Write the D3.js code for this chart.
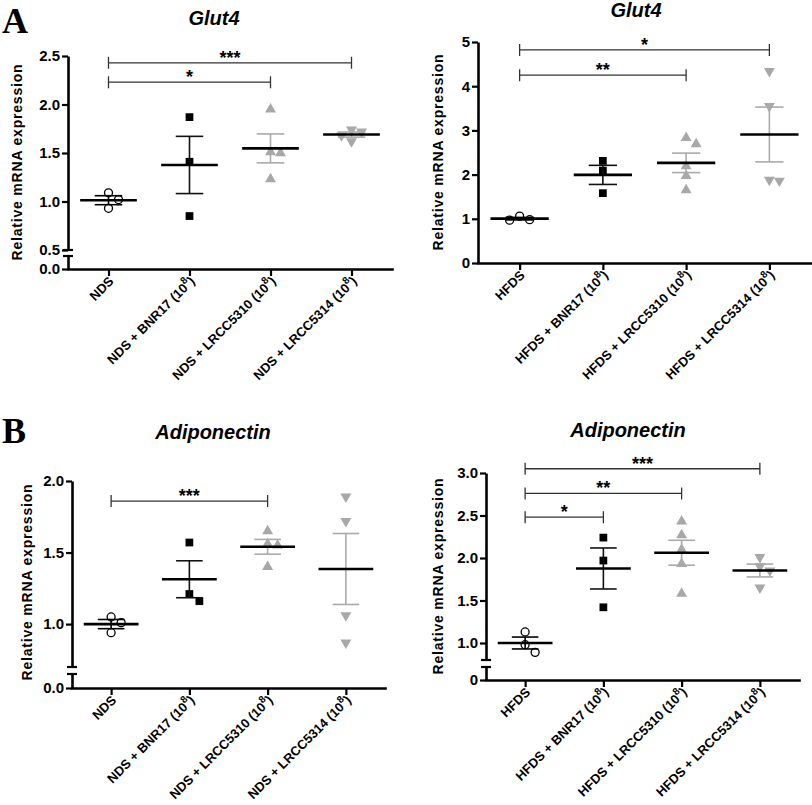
<!DOCTYPE html>
<html>
<head>
<meta charset="utf-8">
<script src="https://cdn.jsdelivr.net/npm/d3@7"></script>
<style>
  body { margin: 0; background: #fff; }
  text { font-family: Arial, "Liberation Sans", sans-serif; }
</style>
</head>
<body>
<svg width="812" height="805"></svg>
<script>
// groups on the x axis
const ndsGroups = ['NDS', 'NDS + BNR17', 'NDS + LRCC5310', 'NDS + LRCC5314'];
const hfdsGroups = ['HFDS', 'HFDS + BNR17', 'HFDS + LRCC5310', 'HFDS + LRCC5314'];
const doseExp = '8';

// relative mRNA expression, one value per animal
const glut4Nds = [[1.09, 1.02, 0.93], [1.87, 1.41, 0.85], [1.95, 1.51, 1.50, 1.23], [1.74, 1.72, 1.68, 1.62]];
const glut4Hfds = [[1.06, 0.98, 0.97], [2.31, 2.09, 1.58], [2.83, 2.69, 2.19, 1.97, 1.65], [4.34, 3.55, 1.88, 1.86]];
const adipoNds = [[1.05, 1.01, 0.94], [1.57, 1.21, 1.16], [1.65, 1.56, 1.55, 1.40], [1.89, 1.72, 1.06, 0.87]];
const adipoHfds = [[1.13, 0.98, 0.89], [2.24, 1.97, 1.42], [2.43, 2.27, 2.10, 1.93, 1.58], [2.01, 1.90, 1.85, 1.65]];

// significance brackets: from group, to group, height, label
const glut4NdsSig = [{a: 0, b: 3, y: 2.43, t: '***'}, {a: 0, b: 2, y: 2.23, t: '*'}];
const glut4HfdsSig = [{a: 0, b: 3, y: 4.82, t: '*'}, {a: 0, b: 2, y: 4.25, t: '**'}];
const adipoNdsSig = [{a: 0, b: 2, y: 1.86, t: '***'}];
const adipoHfdsSig = [{a: 0, b: 3, y: 3.05, t: '***'}, {a: 0, b: 2, y: 2.76, t: '**'}, {a: 0, b: 1, y: 2.48, t: '*'}];

// y tick values and their labels
const glut4NdsTicks = [0.5, 1.0, 1.5, 2.0, 2.5];
const glut4NdsTickLabels = ['0.5', '1.0', '1.5', '2.0', '2.5'];
const glut4HfdsTicks = [0, 1, 2, 3, 4, 5];
const glut4HfdsTickLabels = ['0', '1', '2', '3', '4', '5'];
const adipoNdsTicks = [1.0, 1.5, 2.0];
const adipoNdsTickLabels = ['1.0', '1.5', '2.0'];
const adipoHfdsTicks = [1.0, 1.5, 2.0, 2.5, 3.0];
const adipoHfdsTickLabels = ['1.0', '1.5', '2.0', '2.5', '3.0'];

let svg = d3.select('svg');

// layout of each panel (pixels)
let panels = [
  {title: 'Glut4', groups: ndsGroups, vals: glut4Nds, sig: glut4NdsSig, ticks: glut4NdsTicks, tickLabels: glut4NdsTickLabels,
   zeroLabel: '0.0', lo: 0.5, hi: 2.5, ax: 68, xEnd: 392, yLo: 250, yHi: 56, y0: 269, yLowTop: 256,
   titleX: 214, titleY: 25, labX: 17, labY: 162},
  {title: 'Glut4', groups: hfdsGroups, vals: glut4Hfds, sig: glut4HfdsSig, ticks: glut4HfdsTicks, tickLabels: glut4HfdsTickLabels,
   zeroLabel: null, lo: 0, hi: 5, ax: 478, xEnd: 811, yLo: 263, yHi: 42, y0: 263, yLowTop: null,
   titleX: 636, titleY: 17, labX: 438, labY: 152},
  {title: 'Adiponectin', groups: ndsGroups, vals: adipoNds, sig: adipoNdsSig, ticks: adipoNdsTicks, tickLabels: adipoNdsTickLabels,
   zeroLabel: '0.0', lo: 0.7, hi: 2.0, ax: 72, xEnd: 385, yLo: 667, yHi: 481, y0: 688, yLowTop: 674,
   titleX: 213, titleY: 439, labX: 27, labY: 582},
  {title: 'Adiponectin', groups: hfdsGroups, vals: adipoHfds, sig: adipoHfdsSig, ticks: adipoHfdsTicks, tickLabels: adipoHfdsTickLabels,
   zeroLabel: '0', lo: 0.8, hi: 3.0, ax: 486, xEnd: 799, yLo: 660, yHi: 473, y0: 680, yLowTop: 667,
   titleX: 628, titleY: 437, labX: 438, labY: 576}
];

let symTypes = [d3.symbolCircle, d3.symbolSquare, d3.symbolTriangle, d3.symbolTriangle];
let symSizes = [50, 60, 52, 52];
let symFill = ['#fff', '#000', '#a8a8a8', '#a8a8a8'];
let symStroke = ['#000', 'none', 'none', 'none'];
let errColor = ['#000', '#111', '#aaa', '#aaa'];

function styleAxis(sel) {
  sel.select('.domain').attr('stroke', '#000').attr('stroke-width', 2.6);
  sel.selectAll('.tick line').attr('stroke', '#000').attr('stroke-width', 2.2);
  sel.selectAll('.tick text').attr('fill', '#000')
    .style('font-size', '15px').style('font-weight', 'bold');
}

// spread points that would overlap
function dodge(vals, y) {
  let placed = [];
  let offs = [0, 5, -5, 10, -10, 15, -15];
  return vals.map(function(v) {
    let py = y(v);
    let dx = offs.find(function(o) {
      return placed.every(function(p) { return Math.abs(p.y - py) >= 8 || Math.abs(p.dx - o) >= 9; });
    });
    placed.push({y: py, dx: dx});
    return {v: v, dx: dx};
  });
}

panels.forEach(function(p) {
  let g = svg.append('g');
  let x = d3.scaleLinear().domain([-0.5, 3.5]).range([p.ax, p.xEnd]);
  let y = d3.scaleLinear().domain([p.lo, p.hi]).range([p.yLo, p.yHi]);
  let step = x(1) - x(0);

  // y axis (upper part)
  let ya = g.append('g').attr('transform', 'translate(' + p.ax + ',0)')
    .call(d3.axisLeft(y).tickValues(p.ticks)
      .tickFormat(function(d, i) { return p.tickLabels[i]; })
      .tickSize(6).tickSizeOuter(0).tickPadding(2));
  styleAxis(ya);

  // broken axis: small lower part holding 0
  if (p.yLowTop != null) {
    let y2 = d3.scaleLinear().domain([0, 0.1]).range([p.y0, p.yLowTop]);
    let yb = g.append('g').attr('transform', 'translate(' + p.ax + ',0)')
      .call(d3.axisLeft(y2).tickValues([0]).tickFormat(function() { return p.zeroLabel; })
        .tickSize(6).tickSizeOuter(0).tickPadding(2));
    styleAxis(yb);
    [p.yLo, p.yLowTop].forEach(function(yy) {
      g.append('line').attr('x1', p.ax - 5).attr('x2', p.ax + 5)
        .attr('y1', yy).attr('y2', yy).attr('stroke', '#000').attr('stroke-width', 2.2);
    });
  }

  // x axis
  let xa = g.append('g').attr('transform', 'translate(0,' + p.y0 + ')')
    .call(d3.axisBottom(x).tickValues([0, 1, 2, 3]).tickFormat('').tickSize(7).tickSizeOuter(0));
  styleAxis(xa);
  xa.select('.domain').attr('stroke-linecap', 'square');

  // rotated group labels
  p.groups.forEach(function(name, i) {
    let t = g.append('text')
      .attr('transform', 'translate(' + (x(i) + 6) + ',' + (p.y0 + 13) + ') rotate(-45)')
      .attr('text-anchor', 'end')
      .style('font-size', '13px').style('font-weight', 'bold');
    t.append('tspan').text(name);
    if (i > 0) {
      t.append('tspan').text(' (10');
      t.append('tspan').attr('dy', -6).style('font-size', '10px').text(doseExp);
      t.append('tspan').attr('dy', 6).text(')');
    }
  });

  // y label and title
  g.append('text')
    .attr('transform', 'translate(' + p.labX + ',' + p.labY + ') rotate(-90)')
    .attr('text-anchor', 'middle').attr('dy', '0.35em')
    .style('font-size', '14px').style('font-weight', 'bold').style('letter-spacing', '0.8px')
    .text('Relative mRNA expression');
  g.append('text').attr('x', p.titleX).attr('y', p.titleY)
    .attr('text-anchor', 'middle')
    .style('font-size', '20px').style('font-weight', 'bold').style('font-style', 'italic')
    .text(p.title);

  // points, mean and SEM
  p.vals.forEach(function(vals, i) {
    let cx = x(i);
    let m = d3.mean(vals);
    let sem = d3.deviation(vals) / Math.sqrt(vals.length);
    let sym = d3.symbol().type(symTypes[i]).size(symSizes[i]);
    dodge(vals, y).forEach(function(d) {
      g.append('path').attr('d', sym)
        .attr('transform', 'translate(' + (cx + d.dx) + ',' + y(d.v) + ')' + (i == 3 ? ' rotate(180)' : ''))
        .attr('fill', symFill[i]).attr('stroke', symStroke[i]).attr('stroke-width', 1.3);
    });
    let capW = step * 0.17;
    g.append('line').attr('x1', cx).attr('x2', cx).attr('y1', y(m - sem)).attr('y2', y(m + sem))
      .attr('stroke', errColor[i]).attr('stroke-width', 1.6);
    [m - sem, m + sem].forEach(function(v) {
      g.append('line').attr('x1', cx - capW).attr('x2', cx + capW).attr('y1', y(v)).attr('y2', y(v))
        .attr('stroke', errColor[i]).attr('stroke-width', 1.6);
    });
    g.append('line').attr('x1', cx - step * 0.35).attr('x2', cx + step * 0.35)
      .attr('y1', y(m)).attr('y2', y(m)).attr('stroke', '#000').attr('stroke-width', 2.6);
  });

  // significance brackets
  p.sig.forEach(function(s) {
    let yy = y(s.y);
    g.append('path')
      .attr('d', 'M' + x(s.a) + ',' + (yy - 6) + 'V' + (yy + 6) + 'M' + x(s.a) + ',' + yy +
        'H' + x(s.b) + 'M' + x(s.b) + ',' + (yy - 6) + 'V' + (yy + 6))
      .attr('fill', 'none').attr('stroke', '#333').attr('stroke-width', 1.3);
    g.append('text').attr('x', (x(s.a) + x(s.b)) / 2).attr('y', yy + 1)
      .attr('text-anchor', 'middle')
      .style('font-size', '18px').style('font-weight', 'bold')
      .text(s.t);
  });
});

// panel letters
svg.append('text').attr('x', 2).attr('y', 33).text('A')
  .style('font-family', '"Liberation Serif", "Times New Roman", serif').style('font-size', '36px').style('font-weight', 'bold');
svg.append('text').attr('x', 2).attr('y', 443).text('B')
  .style('font-family', '"Liberation Serif", "Times New Roman", serif').style('font-size', '36px').style('font-weight', 'bold');
</script>
</body>
</html>
